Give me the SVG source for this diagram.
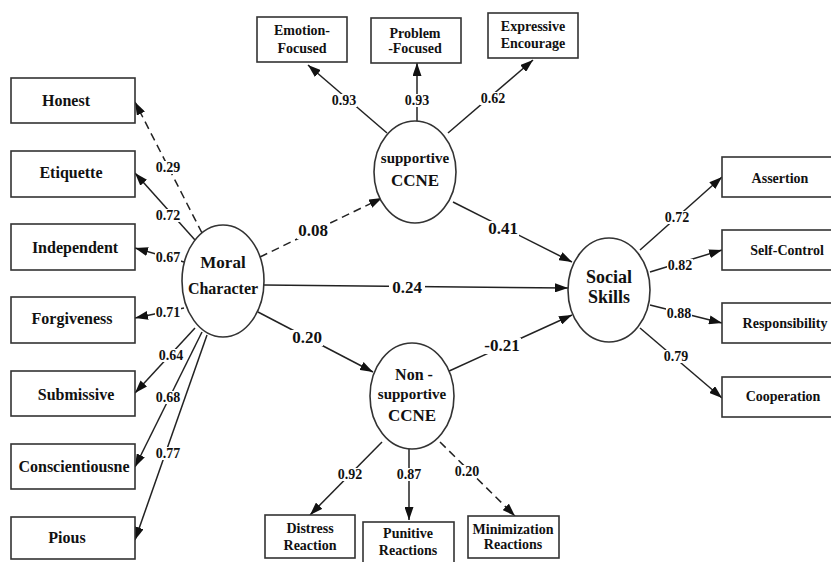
<svg xmlns="http://www.w3.org/2000/svg" width="831" height="562" viewBox="0 0 831 562">
<defs>
<marker id="arr" markerUnits="userSpaceOnUse" markerWidth="13" markerHeight="9" refX="13" refY="4.5" orient="auto">
<path d="M0,0 L13,4.5 L0,9 z" fill="#111"/>
</marker>
<style>
.box{fill:#fff;stroke:#333;stroke-width:1.6}
.ell{fill:#fff;stroke:#333;stroke-width:1.6}
.c{stroke:#222;stroke-width:1.5;fill:none;marker-end:url(#arr)}
.d{stroke-dasharray:8 5}
.bg{fill:#fff}
</style>
</defs>
<rect width="831" height="562" fill="#fff"/>
<g id="connectors">
<line class="c d" x1="202" y1="233" x2="135" y2="102"/>
<line class="c" x1="195" y1="240" x2="135" y2="173"/>
<line class="c" x1="184" y1="262" x2="135" y2="248"/>
<line class="c" x1="184" y1="308" x2="135" y2="318"/>
<line class="c" x1="195" y1="328" x2="135" y2="393"/>
<line class="c" x1="202" y1="332" x2="135" y2="467"/>
<line class="c" x1="207" y1="335" x2="135" y2="540"/>
<line class="c" x1="387" y1="133" x2="308" y2="65"/>
<line class="c" x1="417" y1="121" x2="417" y2="63"/>
<line class="c" x1="448" y1="133" x2="533" y2="60"/>
<line class="c d" x1="260" y1="257" x2="382" y2="198"/>
<line class="c" x1="453" y1="202" x2="572" y2="262"/>
<line class="c" x1="264" y1="285" x2="568" y2="288"/>
<line class="c" x1="258" y1="312" x2="373" y2="372"/>
<line class="c" x1="447" y1="372" x2="572" y2="315"/>
<line class="c" x1="640" y1="250" x2="722" y2="177"/>
<line class="c" x1="650" y1="272" x2="722" y2="250"/>
<line class="c" x1="650" y1="305" x2="722" y2="323"/>
<line class="c" x1="640" y1="328" x2="722" y2="398"/>
<line class="c" x1="382" y1="442" x2="310" y2="515"/>
<line class="c" x1="409" y1="449" x2="409" y2="520"/>
<line class="c d" x1="440" y1="442" x2="515" y2="516"/>
<g>
<rect class="bg" x="155" y="161" width="26" height="13"/>
<rect class="bg" x="155" y="209" width="26" height="13"/>
<rect class="bg" x="155" y="251" width="26" height="13"/>
<rect class="bg" x="155" y="306" width="26" height="13"/>
<rect class="bg" x="158" y="349" width="26" height="13"/>
<rect class="bg" x="155" y="391" width="26" height="13"/>
<rect class="bg" x="155" y="447" width="26" height="13"/>
<rect class="bg" x="331" y="94" width="26" height="13"/>
<rect class="bg" x="404" y="94" width="26" height="13"/>
<rect class="bg" x="480" y="92" width="26" height="13"/>
<rect class="bg" x="664" y="211" width="26" height="13"/>
<rect class="bg" x="667" y="259" width="26" height="13"/>
<rect class="bg" x="666" y="307" width="26" height="13"/>
<rect class="bg" x="663" y="350" width="26" height="13"/>
<rect class="bg" x="337" y="468" width="26" height="13"/>
<rect class="bg" x="396" y="468" width="26" height="13"/>
<rect class="bg" x="454" y="465" width="26" height="13"/>
<rect class="bg" x="297" y="223" width="32" height="16"/>
<rect class="bg" x="487" y="221" width="32" height="16"/>
<rect class="bg" x="389" y="280" width="36" height="16"/>
<rect class="bg" x="291" y="330" width="32" height="16"/>
<rect class="bg" x="483" y="338" width="38" height="16"/>
</g>
<g font-family="Liberation Serif, Times New Roman, serif" font-weight="bold" fill="#111" text-anchor="middle" font-size="14">
<text x="168" y="172">0.29</text>
<text x="168" y="220">0.72</text>
<text x="168" y="262">0.67</text>
<text x="168" y="317">0.71</text>
<text x="171" y="360">0.64</text>
<text x="168" y="402">0.68</text>
<text x="168" y="458">0.77</text>
<text x="344" y="105">0.93</text>
<text x="417" y="105">0.93</text>
<text x="493" y="103">0.62</text>
<text x="677" y="222">0.72</text>
<text x="680" y="270">0.82</text>
<text x="679" y="318">0.88</text>
<text x="676" y="361">0.79</text>
<text x="350" y="479">0.92</text>
<text x="409" y="479">0.87</text>
<text x="467" y="476">0.20</text>
<text x="313" y="236" font-size="17">0.08</text>
<text x="503" y="234" font-size="17">0.41</text>
<text x="407" y="293" font-size="17">0.24</text>
<text x="307" y="343" font-size="17">0.20</text>
<text x="502" y="351" font-size="17">-0.21</text>
</g>
</g>
<g font-family="Liberation Serif, Times New Roman, serif" font-weight="bold" fill="#111" text-anchor="middle">
<g id="honest" font-size="16"><rect class="box" x="11" y="78" width="124" height="45"/><text x="66" y="106">Honest</text></g>
<g id="etiquette" font-size="16"><rect class="box" x="11" y="151" width="124" height="46"/><text x="71" y="178">Etiquette</text></g>
<g id="independent" font-size="16"><rect class="box" x="11" y="224" width="124" height="46"/><text x="75" y="253">Independent</text></g>
<g id="forgiveness" font-size="16"><rect class="box" x="11" y="297" width="124" height="46"/><text x="72" y="324">Forgiveness</text></g>
<g id="submissive" font-size="16"><rect class="box" x="11" y="371" width="124" height="45"/><text x="76" y="400">Submissive</text></g>
<g id="conscientiousne" font-size="16"><rect class="box" x="11" y="444" width="124" height="45"/><text x="74" y="472">Conscientiousne</text></g>
<g id="pious" font-size="16"><rect class="box" x="11" y="517" width="124" height="42"/><text x="67" y="543">Pious</text></g>
<g id="moral-character"><ellipse class="ell" cx="223" cy="281" rx="41" ry="56"/><text font-size="17" x="223" y="268">Moral</text><text font-size="16" x="223" y="294">Character</text></g>
<g id="supportive-ccne"><ellipse class="ell" cx="415" cy="172" rx="41" ry="51"/><text font-size="15" x="415" y="163">supportive</text><text font-size="17" x="415" y="186">CCNE</text></g>
<g id="non-supportive-ccne"><ellipse class="ell" cx="412" cy="396" rx="42" ry="53"/><text font-size="16" x="414" y="380">Non -</text><text font-size="15" x="412" y="399">supportive</text><text font-size="17" x="412" y="421">CCNE</text></g>
<g id="social-skills" font-size="18"><ellipse class="ell" cx="609" cy="290" rx="41" ry="52"/><text x="609" y="283">Social</text><text x="609" y="303">Skills</text></g>
<g id="emotion-focused" font-size="14"><rect class="box" x="257" y="17" width="90" height="45"/><text x="302" y="35">Emotion-</text><text x="302" y="53">Focused</text></g>
<g id="problem-focused" font-size="14"><rect class="box" x="371" y="18" width="90" height="45"/><text x="415" y="38">Problem</text><text x="415" y="53">-Focused</text></g>
<g id="expressive-encourage" font-size="14"><rect class="box" x="488" y="13" width="90" height="45"/><text x="533" y="31">Expressive</text><text x="533" y="48">Encourage</text></g>
<g id="assertion" font-size="14"><rect class="box" x="722" y="157" width="115" height="40"/><text x="780" y="183">Assertion</text></g>
<g id="self-control" font-size="14"><rect class="box" x="722" y="230" width="115" height="40"/><text x="787" y="255">Self-Control</text></g>
<g id="responsibility" font-size="14"><rect class="box" x="722" y="303" width="115" height="40"/><text x="785" y="328">Responsibility</text></g>
<g id="cooperation" font-size="14"><rect class="box" x="722" y="377" width="115" height="40"/><text x="783" y="401">Cooperation</text></g>
<g id="distress-reaction" font-size="14"><rect class="box" x="265" y="515" width="90" height="43"/><text x="310" y="533">Distress</text><text x="310" y="550">Reaction</text></g>
<g id="punitive-reactions" font-size="14"><rect class="box" x="363" y="522" width="91" height="45"/><text x="408" y="538">Punitive</text><text x="408" y="555">Reactions</text></g>
<g id="minimization-reactions" font-size="14"><rect class="box" x="468" y="516" width="91" height="42"/><text x="513" y="534">Minimization</text><text x="513" y="549">Reactions</text></g>
</g>
</svg>
